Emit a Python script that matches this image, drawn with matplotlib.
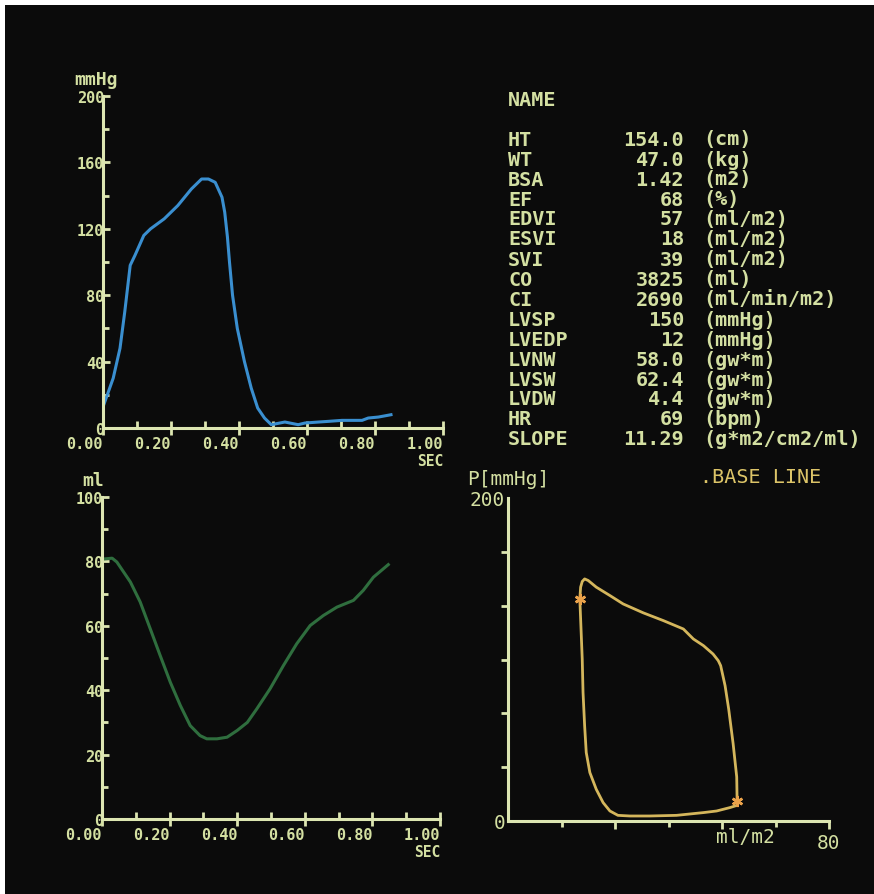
import matplotlib
matplotlib.use('Agg')
import matplotlib.pyplot as plt
from matplotlib.patches import Rectangle
from matplotlib.ticker import FixedLocator, FixedFormatter

# ---------------- data ----------------
# LV pressure (mmHg) vs time (sec)
p_time = [0.00, 0.03, 0.05, 0.064, 0.08, 0.094, 0.12, 0.14, 0.18, 0.22, 0.26, 0.29,
          0.31, 0.33, 0.35, 0.358, 0.366, 0.372, 0.381, 0.395, 0.416, 0.436, 0.455,
          0.475, 0.495, 0.535, 0.574, 0.594, 0.634, 0.663, 0.703, 0.762, 0.78, 0.81, 0.847]
p_val = [12.7, 30, 48, 70, 98, 104, 116, 120, 126, 134, 144, 150,
         150, 148, 139, 130, 115, 100, 80, 60, 40, 24, 12,
         6, 2, 3.6, 2, 3, 3.6, 4, 4.6, 4.6, 6, 6.6, 8]

# LV volume (ml) vs time (sec)
v_time = [0.01, 0.03, 0.044, 0.084, 0.113, 0.143, 0.172, 0.202, 0.232, 0.261, 0.29,
          0.31, 0.34, 0.37, 0.40, 0.43, 0.458, 0.497, 0.537, 0.576, 0.616, 0.655,
          0.695, 0.744, 0.773, 0.803, 0.847]
v_val = [80.8, 81, 79.8, 73.6, 67.4, 59, 50.8, 42.5, 35.2, 29, 25.9,
         24.9, 24.9, 25.4, 27.5, 30, 34.2, 40.4, 47.7, 54.4, 60.1, 63.2,
         65.8, 67.9, 71, 75.1, 79]

# Pressure-volume loop (ml/m2, mmHg)
loop_vol = [57.1, 57.0, 56.1, 55.0, 54.1, 53.0, 52.4, 51.1, 48.7, 46.2, 43.7, 38.7,
            33.7, 28.7, 25.4, 22.0, 20.0, 19.1, 18.5, 18.1, 17.9, 18.1, 18.5, 18.7,
            19.1, 19.5, 20.4, 22.0, 23.7, 25.4, 27.4, 30.4, 35.3, 42.0, 48.7, 52.0,
            55.3, 57.1, 57.1]
loop_pres = [12.4, 27.3, 48.0, 69.3, 83.8, 96.2, 99.3, 103.4, 108.6, 112.7, 118.9, 124.1,
             128.9, 134.4, 139.6, 144.8, 148.9, 149.9, 148.3, 144.8, 137.5, 125.1, 100.3, 79.6,
             58.9, 42.4, 30.0, 19.6, 11.4, 6.2, 3.5, 3.1, 3.1, 3.5, 5.2, 6.2,
             8.3, 9.7, 12.4]
marker_vol = [17.9, 57.1]
marker_pres = [137.5, 12.4]

# parameter table
names = ['HT', 'WT', 'BSA', 'EF', 'EDVI', 'ESVI', 'SVI', 'CO', 'CI', 'LVSP',
         'LVEDP', 'LVNW', 'LVSW', 'LVDW', 'HR', 'SLOPE']
values = ['154.0', '47.0', '1.42', '68', '57', '18', '39', '3825', '2690', '150',
          '12', '58.0', '62.4', '4.4', '69', '11.29']
units = ['(cm)', '(kg)', '(m2)', '(%)', '(ml/m2)', '(ml/m2)', '(ml/m2)', '(ml)',
         '(ml/min/m2)', '(mmHg)', '(mmHg)', '(gw*m)', '(gw*m)', '(gw*m)', '(bpm)',
         '(g*m2/cm2/ml)']

time_ticks = [0.0, 0.2, 0.4, 0.6, 0.8, 1.0]
time_tick_labels = ['0.00', '0.20', '0.40', '0.60', '0.80', '1.00']
press_ticks = [0, 40, 80, 120, 160, 200]
vol_ticks = [0, 20, 40, 60, 80, 100]

# ---------------- style ----------------
W, H = 874, 895
BG = '#0b0b0b'
AXC = '#dde6b2'
TXT = '#d4e0a2'
MONO = 'DejaVu Sans Mono'

fig = plt.figure(figsize=(W / 100, H / 100), dpi=100)
fig.patch.set_facecolor('white')
fig.add_artist(Rectangle((5 / W, 0), 1, 1 - 6 / H, transform=fig.transFigure,
                         facecolor=BG, edgecolor='none', zorder=-10))


def axes_px(l, t, r, b):
    ax = fig.add_axes([l / W, 1 - b / H, (r - l) / W, (b - t) / H])
    ax.set_facecolor('none')
    for s in ('top', 'right'):
        ax.spines[s].set_visible(False)
    for s in ('left', 'bottom'):
        ax.spines[s].set_color(AXC)
        ax.spines[s].set_linewidth(2.2)
        ax.spines[s].set_zorder(5)
    return ax


def ftext(x, y, s, **kw):
    kw.setdefault('color', TXT)
    kw.setdefault('family', MONO)
    kw.setdefault('fontweight', 'bold')
    fig.text(x / W, 1 - y / H, s, **kw)


def time_axes(ax, yticks, ymax):
    ax.set_xlim(0, 1.0)
    ax.set_ylim(0, ymax)
    ax.xaxis.set_major_locator(FixedLocator(time_ticks))
    ax.xaxis.set_major_formatter(FixedFormatter(time_tick_labels))
    ax.xaxis.set_minor_locator(FixedLocator([0.1, 0.3, 0.5, 0.7, 0.9]))
    ax.yaxis.set_major_locator(FixedLocator(yticks))
    ax.yaxis.set_major_formatter(FixedFormatter([str(v) for v in yticks]))
    step = yticks[1] - yticks[0]
    ax.yaxis.set_minor_locator(FixedLocator([v + step / 2 for v in yticks[:-1]]))
    ax.tick_params(axis='x', which='major', direction='inout', length=10, width=2,
                   color=AXC, labelcolor=TXT, labelsize=11, pad=1)
    ax.tick_params(axis='x', which='minor', direction='in', length=5, width=2, color=AXC)
    ax.tick_params(axis='y', which='major', direction='in', length=5, width=2,
                   color=AXC, labelcolor=TXT, labelsize=11, pad=-1)
    ax.tick_params(axis='y', which='minor', direction='in', length=4, width=2, color=AXC)
    for lab in ax.get_xticklabels():
        lab.set_family(MONO)
        lab.set_fontweight('bold')
        lab.set_horizontalalignment('right')
    for lab in ax.get_yticklabels():
        lab.set_family(MONO)
        lab.set_fontweight('bold')


# ---- pressure vs time ----
ax1 = axes_px(103, 97, 443, 429)
time_axes(ax1, press_ticks, 200)
ax1.plot(p_time, p_val, color='#3a8fd0', lw=2.2, solid_joinstyle='round')
ftext(74, 80, 'mmHg', fontsize=13, va='center')
ftext(443, 462, 'SEC', fontsize=10.5, va='center', ha='right')

# ---- volume vs time ----
ax2 = axes_px(102, 498, 440, 820)
time_axes(ax2, vol_ticks, 100)
ax2.plot(v_time, v_val, color='#2f6e3e', lw=2.2, solid_joinstyle='round')
ftext(82, 481, 'ml', fontsize=13, va='center')
ftext(440, 853, 'SEC', fontsize=10.5, va='center', ha='right')

# ---- PV loop ----
ax3 = axes_px(508, 499, 829, 822)
ax3.set_xlim(0, 80)
ax3.set_ylim(0, 200)
ax3.xaxis.set_major_locator(FixedLocator([80 / 3, 160 / 3, 80]))
ax3.xaxis.set_major_formatter(FixedFormatter(['', '', '80']))
ax3.xaxis.set_minor_locator(FixedLocator([40 / 3, 40, 200 / 3]))
ax3.yaxis.set_major_locator(FixedLocator([0, 200]))
ax3.yaxis.set_major_formatter(FixedFormatter(['0', '200']))
ax3.yaxis.set_minor_locator(FixedLocator([200 / 6 * k for k in range(1, 6)]))
ax3.tick_params(axis='x', which='major', direction='out', length=6, width=2,
                color=AXC, labelcolor=TXT, labelsize=14, pad=3)
ax3.tick_params(axis='x', which='minor', direction='out', length=4, width=2, color=AXC)
ax3.tick_params(axis='y', which='major', direction='out', length=0, width=2,
                color=AXC, labelcolor=TXT, labelsize=14, pad=2)
ax3.tick_params(axis='y', which='minor', direction='out', length=5, width=2, color=AXC)
for lab in ax3.get_xticklabels() + ax3.get_yticklabels():
    lab.set_family(MONO)
ax3.plot(loop_vol, loop_pres, color='#d4b65c', lw=2.0, solid_joinstyle='round')
ax3.plot(marker_vol, marker_pres, linestyle='none', marker=(6, 2, 0), markersize=8,
         markeredgewidth=1.8, color='#eaa24a')
ftext(467, 480, 'P[mmHg]', fontsize=14, va='center', fontweight='normal')
ftext(716, 838, 'ml/m2', fontsize=14, va='center', fontweight='normal')
ftext(700, 478, '.BASE LINE', fontsize=14.5, va='center', fontweight='normal',
      color='#dcc468')

# ---- parameter table ----
FS = 14.5
ftext(508, 100, 'NAME', fontsize=FS, va='center')
for i, (n, v, u) in enumerate(zip(names, values, units)):
    y = 140 + i * 20
    ftext(508, y, n, fontsize=FS, va='center')
    ftext(684, y, v, fontsize=FS, va='center', ha='right')
    ftext(703, y, u, fontsize=FS, va='center')

fig.savefig('out.png', dpi=100, facecolor=fig.get_facecolor())
